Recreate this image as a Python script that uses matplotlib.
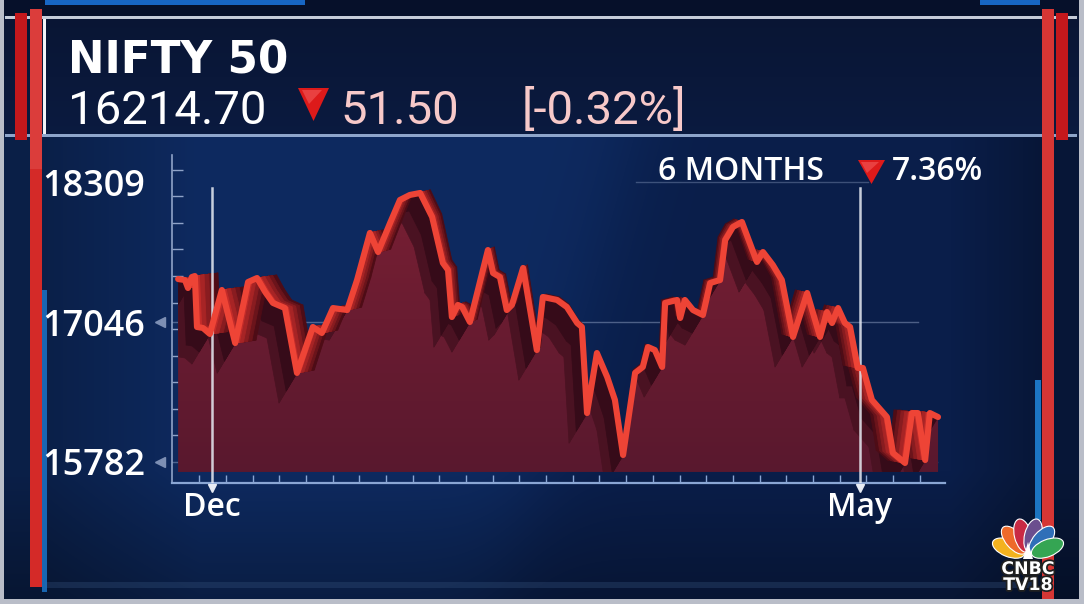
import numpy as np
import matplotlib
matplotlib.use('Agg')
import matplotlib.pyplot as plt
from matplotlib.patches import Polygon, Rectangle, Ellipse
from matplotlib.collections import PolyCollection
import matplotlib.transforms as mtransforms
import matplotlib.patheffects as pe

# ---------------- data ----------------
index_name = "NIFTY 50"
last_value = "16214.70"
change_abs = "51.50"
change_pct = "[-0.32%]"
period_label = "6 MONTHS"
period_change = "7.36%"

# days relative to 1 Dec 2021
day_offsets = [-7.9, -6.3, -5.6, -4.7, -4.0, -3.5, -2.1, -0.5, 2.3, 5.4, 8.4, 10.5, 12.4, 14.2,
               17.0, 19.8, 23.5, 25.6, 28.2, 31.5, 33.8, 36.8, 38.7, 41.5, 43.8, 46.1, 48.5, 51.3,
               53.8, 55.0, 55.9, 57.3, 58.3, 60.1, 64.3, 65.5, 67.1, 68.7, 69.9, 72.5, 75.7, 77.1,
               80.4, 82.7, 85.1, 86.2, 87.4, 89.7, 92.1, 93.9, 95.8, 98.6, 100.4, 101.6, 103.2,
               104.9, 105.6, 108.4, 109.1, 110.2, 112.1, 114.4, 116.1, 118.4, 119.6, 121.4, 123.5,
               127.0, 128.4, 130.7, 132.8, 135.4, 138.7, 141.7, 143.3, 144.5, 145.9, 147.5, 148.7,
               150.5, 151.7, 153.8, 157.3, 158.7, 161.5, 163.1, 164.5, 166.2, 167.3, 169.2]
closes = [17434, 17425, 17353, 17452, 17461, 17001, 16992, 16938, 17335, 16856, 17407, 17443, 17317,
          17218, 17172, 16586, 17001, 16947, 17172, 17154, 17425, 17850, 17678, 17940, 18148, 18193,
          18211, 17994, 17579, 17516, 17091, 17200, 17181, 17046, 17696, 17488, 17452, 17154, 17200,
          17534, 16793, 17272, 17245, 17181, 17037, 17001, 16224, 16766, 16549, 16342, 15845, 16586,
          16640, 16820, 16793, 16640, 17218, 17245, 17082, 17245, 17154, 17109, 17398, 17425, 17786,
          17904, 17949, 17588, 17678, 17561, 17425, 16911, 17308, 16911, 17136, 17037, 17172, 17037,
          17001, 16631, 16631, 16342, 16188, 15863, 15773, 16224, 16224, 15800, 16224, 16188]

y_tick_values = [15782, 17046, 18309]
y_tick_labels = ["15782", "17046", "18309"]
x_tick_values = [0, 151]
x_tick_labels = ["Dec", "May"]
fill_base = 15692

# ---------------- figure ----------------
W, H = 1084, 604
fig = plt.figure(figsize=(W / 100, H / 100), dpi=100)

bg = fig.add_axes([0, 0, 1, 1], zorder=0)
bg.set_xlim(0, W)
bg.set_ylim(H, 0)
bg.axis('off')

# background gradient image
yy, xx = np.mgrid[0:H, 0:W].astype(float)
c_light = np.array([14, 42, 96]) / 255
c_dark = np.array([10, 30, 74]) / 255
xd = 630 - (yy - 150) * 0.28
t = 1 / (1 + np.exp(-(xx - xd) / 25))
img = c_light[None, None, :] * (1 - t[..., None]) + c_dark[None, None, :] * t[..., None]
f = 1 - 0.30 * np.clip((yy - 470) / 130, 0, 1)
f *= 1 - 0.25 * np.clip((200 - xx) / 160, 0, 1)
f *= 1 - 0.25 * np.clip((xx - 950) / 90, 0, 1)
img = img * f[..., None]
head = (yy >= 18) & (yy <= 135)
hc = np.array([10, 24, 58]) / 255
img[head] = hc * (0.9 + 0.2 * ((yy[head] - 18) / 117))[:, None]
top = yy < 16
img[top] = np.array([6, 16, 42]) / 255
bg.imshow(np.clip(img, 0, 1), extent=(0, W, H, 0), aspect='auto', zorder=0, interpolation='bilinear')

def rect(x, y, w, h, color, alpha=1.0, z=2):
    bg.add_patch(Rectangle((x, y), w, h, facecolor=color, edgecolor='none', alpha=alpha, zorder=z))

# top blue strips
rect(45, 0, 260, 5, '#1766c4')
rect(980, 0, 60, 5, '#1766c4')
# header lines
rect(5, 15.5, 1072, 3.5, '#d0d6e2', 0.95)
rect(5, 133.5, 1072, 3, '#9db5da', 0.9)
rect(43, 19, 3, 115, '#f2f4f8')
# left bars
rect(15, 13, 12, 127, '#c4181c', z=3)
rect(30, 9, 12, 578, '#d42a28', z=3)
rect(30, 9, 12, 160, '#e04a48', 0.6, z=3)
rect(42, 290, 5, 302, '#1b6fc0', 0.9, z=3)
# right bars
rect(1035, 380, 6, 140, '#1f80d2', 0.9, z=3)
rect(1042, 9, 12, 592, '#d63634', z=3)
rect(1056, 13, 12, 127, '#c4181c', z=3)
# bottom subtle strip
rect(45, 582, 990, 6, '#34507a', 0.35)
# outer grey border
rect(0, 0, 3.5, H, '#b9bdc8', z=4)
rect(1079, 0, 5, H, '#b9bdc8', z=4)
rect(0, 598.5, W, 5.5, '#b9bdc8', z=4)

# ---------------- header text ----------------
narrow = ['Roboto', 'DejaVu Sans']
bg.text(68, 73, index_name, fontsize=31.5, fontweight='bold', family='DejaVu Sans',
        color='white', va='baseline', ha='left', zorder=5)
bg.text(68, 124, last_value, fontsize=34, family=narrow, color='white',
        va='baseline', ha='left', zorder=5)
bg.add_patch(Polygon([(298, 88), (329, 88), (313.5, 121)], closed=True,
                     facecolor='#dd1a1a', edgecolor='none', zorder=5))
bg.add_patch(Polygon([(302, 90), (322, 90), (309, 104)], closed=True,
                     facecolor='#f25a5a', edgecolor='none', alpha=0.6, zorder=5))
bg.text(340, 124, change_abs, fontsize=34, family=narrow, color='#f7c9c9',
        va='baseline', ha='left', zorder=5)
bg.text(522, 124, change_pct, fontsize=34, family=narrow, color='#f7c9c9',
        va='baseline', ha='left', zorder=5)

# ---------------- chart axes ----------------
px_per_day = 4.291
val_per_px = 9.029
x_left_px, x_right_px, y_top_px, y_bot_px = 172, 945, 155, 483
ax = fig.add_axes([x_left_px / W, 1 - y_bot_px / H, (x_right_px - x_left_px) / W,
                   (y_bot_px - y_top_px) / H], zorder=1)
ax.patch.set_alpha(0)
xlim = ((x_left_px - 212) / px_per_day, (x_right_px - 212) / px_per_day)
ylim = (17046 - (y_bot_px - 322) * val_per_px, 17046 - (y_top_px - 322) * val_per_px)

x = np.array(day_offsets, dtype=float)
y = np.array(closes, dtype=float)

# fill area with vertical gradient clipped to polygon
verts = [(x[0], fill_base)] + list(zip(x, y)) + [(x[-1], fill_base)]
fill_patch = Polygon(verts, closed=True, facecolor='none', edgecolor='none')
ax.add_patch(fill_patch)
g = np.linspace(0, 1, 256)[:, None]
ctop = np.array([124, 32, 52]) / 255
cbot = np.array([88, 24, 46]) / 255
gimg = (ctop[None, None, :] * (1 - g[..., None]) + cbot[None, None, :] * g[..., None])
gimg = np.repeat(gimg, 4, axis=1)
im = ax.imshow(gimg, extent=(xlim[0], xlim[1], ylim[0], ylim[1]), origin='upper',
               aspect='auto', zorder=2, interpolation='bilinear')
im.set_clip_path(fill_patch)
ax.set_xlim(*xlim)
ax.set_ylim(*ylim)

# 3D helpers (offsets in pixels via the axes transform)
disp = ax.transData.transform(np.c_[x, y])
inv = ax.transData.inverted()

def quads(offset_disp):
    back = inv.transform(disp + offset_disp)
    front = np.c_[x, y]
    return [[front[i], front[i + 1], back[i + 1], back[i]] for i in range(len(x) - 1)]

# shadow on the fill
for fr, colr in [(1.0, '#4a1222'), (0.6, '#360b19')]:
    sh_off = np.tile([-18.0 * fr, -30.0 * fr], (len(x), 1))
    shadow = PolyCollection(quads(sh_off), facecolors=colr, edgecolors=colr,
                            linewidths=0.5, zorder=3)
    ax.add_collection(shadow)
    shadow.set_clip_path(fill_patch)

# extruded ribbon
dx = 24 * (600 - disp[:, 0]) / 420
rib_off = np.c_[dx, np.full(len(x), 3.0)]
far_c = np.array([78, 12, 22]) / 255
near_c = np.array([196, 44, 42]) / 255
for fr in [1.0, 0.8, 0.6, 0.4, 0.2]:
    k = (1.0 - fr) / 0.8
    col = far_c * (1 - k) + near_c * k
    pc = PolyCollection(quads(rib_off * fr), facecolors=[col], edgecolors=[col],
                        linewidths=0.6, zorder=4)
    ax.add_collection(pc)

# front line
ax.plot(x, y, color='#ee4436', lw=4.4, solid_joinstyle='round', solid_capstyle='round', zorder=6)

# grid lines
ax.axhline(y_tick_values[1], xmax=0.965, color='#9fb0d0', alpha=0.45, lw=1, zorder=1)
ax.axhline(y_tick_values[0], xmax=0.99, color='#9fb0d0', alpha=0.45, lw=1, zorder=1)
ax.axhline(y_tick_values[2], xmin=0.6, xmax=0.9, color='#9fb0d0', alpha=0.35, lw=1, zorder=1)

# Dec / May vertical markers
for xv in x_tick_values:
    ax.axvline(xv, ymin=0, ymax=0.9, color='#e8ecf4', alpha=0.85, lw=1.8, zorder=5)

# spines
for s in ['top', 'right']:
    ax.spines[s].set_visible(False)
ax.spines['left'].set_color('#8fa3c8')
ax.spines['left'].set_linewidth(1.2)
ax.spines['bottom'].set_color('#8aa6d4')
ax.spines['bottom'].set_linewidth(1.6)

# ticks
ax.set_yticks(y_tick_values)
ax.set_yticklabels(y_tick_labels)
ax.set_yticks(np.arange(15782, 18500, 240), minor=True)
ax.set_xticks(x_tick_values)
ax.set_xticklabels(x_tick_labels)
ax.set_xticks(np.arange(-3.0, 171, 6.22), minor=True)
ax.tick_params(axis='y', which='major', length=0, pad=19, labelcolor='white', labelsize=26)
ax.tick_params(axis='x', which='major', length=0, pad=6, labelcolor='white', labelsize=23)
ax.tick_params(axis='y', which='minor', direction='in', length=8, width=1, color='#8fa3c8')
ax.tick_params(axis='x', which='minor', direction='in', length=6, width=1, color='#8aa6d4')
for lbl in ax.get_yticklabels() + ax.get_xticklabels():
    lbl.set_fontfamily('Open Sans')
    lbl.set_fontweight('semibold')

# little arrows on the axes
ytr = mtransforms.blended_transform_factory(ax.transAxes, ax.transData)
for yv in y_tick_values[:2]:
    ax.plot([-0.016], [yv], marker='<', ms=7, color='#7d8fb4', transform=ytr, clip_on=False, zorder=5)
xtr = mtransforms.blended_transform_factory(ax.transData, ax.transAxes)
for xv in x_tick_values:
    ax.plot([xv], [-0.014], marker='v', ms=6, color='#e8ecf4', transform=xtr, clip_on=False, zorder=5)

# period label
bg.text(658, 180, period_label, fontsize=23, family='Open Sans', fontweight='semibold',
        color='white', va='baseline', ha='left', zorder=5)
bg.add_patch(Polygon([(858, 160), (885, 160), (871.5, 184)], closed=True,
                     facecolor='#dd1a1a', edgecolor='none', zorder=5))
bg.add_patch(Polygon([(861, 162), (879, 162), (867, 173)], closed=True,
                     facecolor='#f25a5a', edgecolor='none', alpha=0.6, zorder=5))
bg.text(892, 180, period_change, fontsize=23, family='Open Sans', fontweight='semibold',
        color='white', va='baseline', ha='left', zorder=5)

# ---------------- CNBC TV18 logo ----------------
cx, cy = 1028, 556
feather_colors = ['#f3b21f', '#ee6a2a', '#c92a44', '#6b4e8e', '#2f6fb8', '#35a553']
angles = [-68, -41, -14, 14, 41, 68]
for ang, colr in zip(angles, feather_colors):
    r = 21
    a = np.deg2rad(ang)
    ex, ey = cx + r * np.sin(a), cy - r * np.cos(a)
    bg.add_patch(Ellipse((ex, ey), 17, 34, angle=ang, facecolor=colr, edgecolor='white',
                         linewidth=0.8, zorder=6))
bg.add_patch(Polygon([(cx - 5, cy + 3), (cx + 5, cy + 3), (cx, cy - 14)], closed=True,
                     facecolor='white', edgecolor='none', zorder=7))
stroke = [pe.withStroke(linewidth=2.5, foreground='#202020')]
bg.text(cx, 569, "CNBC", fontsize=12.5, fontweight='heavy', family='DejaVu Sans', color='white',
        ha='center', va='center', zorder=8, path_effects=stroke)
bg.text(cx, 585, "TV18", fontsize=12.5, fontweight='heavy', family='DejaVu Sans', color='white',
        ha='center', va='center', zorder=8, path_effects=stroke)

fig.savefig('out.png', dpi=100)
